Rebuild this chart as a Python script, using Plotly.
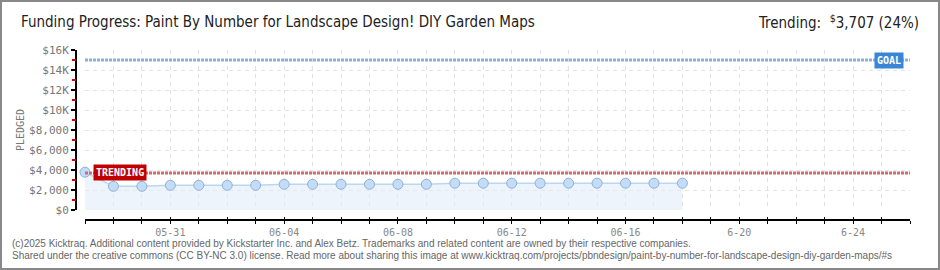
import plotly.graph_objects as go
import pandas as pd

# ---- data ----
dates = pd.date_range("2025-05-28", "2025-06-18", freq="D").strftime("%Y-%m-%d").tolist()
pledged = [3780, 2370, 2370, 2470, 2470, 2470, 2470, 2570, 2570, 2570, 2570, 2570, 2570,
           2680, 2680, 2680, 2680, 2680, 2680, 2680, 2680, 2680]
goal = 15000
trending = 3707
x_tickvals = ["2025-05-31", "2025-06-04", "2025-06-08", "2025-06-12", "2025-06-16", "2025-06-20", "2025-06-24"]
x_ticktext = ["05-31", "06-04", "06-08", "06-12", "06-16", "6-20", "6-24"]
y_tickvals = [0, 2000, 4000, 6000, 8000, 10000, 12000, 14000, 16000]
y_ticktext = ["$0", "$2,000", "$4,000", "$6,000", "$8,000", "$10K", "$12K", "$14K", "$16K"]
y_minor_vals = [1000, 3000, 5000, 7000, 9000, 11000, 13000, 15000]
x_range = ["2025-05-28", "2025-06-26"]
y_range = [0, 16000]

W, H = 940, 270
L, R, T, B = 76, 30, 50, 50
PW, PH = W - L - R, H - T - B


def px(x):
    return (x - L) / PW


def py(y):
    return (H - B - y) / PH


MONO = "DejaVu Sans Mono"
TITLE_FONT = "DejaVu Sans Condensed, Liberation Sans Narrow, Liberation Sans, sans-serif"
GRID = "#E2E2E2"
fig = go.Figure()

fig.add_trace(go.Scatter(
    x=dates, y=pledged, mode="lines+markers",
    line=dict(color="#BCD5F0", width=1.5),
    fill="tozeroy", fillcolor="rgba(225,236,250,0.6)",
    marker=dict(size=10, color="#C3DDF8", line=dict(color="#8FB0D6", width=1)),
    cliponaxis=False, hoverinfo="skip", showlegend=False,
))
# goal & trending lines
fig.add_trace(go.Scatter(x=x_range, y=[goal, goal], mode="lines",
                         line=dict(color="#8AB0DC", width=3, dash="3px,1px"),
                         hoverinfo="skip", showlegend=False))
fig.add_trace(go.Scatter(x=x_range, y=[trending, trending], mode="lines",
                         line=dict(color="#D46A6A", width=3, dash="3px,1px"),
                         hoverinfo="skip", showlegend=False))

fig.update_layout(
    width=W, height=H, margin=dict(l=L, r=R, t=T, b=B),
    paper_bgcolor="white", plot_bgcolor="white",
    xaxis=dict(
        domain=[px(85), 1], range=x_range, anchor="free", position=0,
        showline=True, linecolor="black", linewidth=2,
        tickmode="array", tickvals=x_tickvals, ticktext=x_ticktext,
        ticks="outside", ticklen=3, tickcolor="black", tickwidth=1,
        tickfont=dict(family=MONO, size=10, color="#888"),
        showgrid=True, gridcolor=GRID, griddash="4px,4px", gridwidth=1,
        minor=dict(dtick=86400000, tick0="2025-05-28", ticks="outside", ticklen=3,
                   tickcolor="black", showgrid=True, gridcolor=GRID, griddash="4px,4px"),
        zeroline=False,
    ),
    xaxis2=dict(
        domain=[px(85), 1], range=x_range, anchor="free", position=0, overlaying="x",
        showline=False, showticklabels=False, showgrid=False,
        tickmode="linear", tick0="2025-05-28", dtick=86400000,
        ticks="inside", ticklen=3, tickcolor="black", zeroline=False,
    ),
    yaxis=dict(
        domain=[py(210), 1], range=y_range, anchor="free", position=0,
        showline=True, linecolor="black", linewidth=2,
        tickmode="array", tickvals=y_tickvals, ticktext=y_ticktext,
        ticks="outside", ticklen=4, tickcolor="black", tickwidth=2,
        tickfont=dict(family=MONO, size=11, color="#777"),
        showgrid=True, gridcolor=GRID, griddash="4px,4px", gridwidth=1,
        zeroline=False,
    ),
    yaxis2=dict(
        domain=[py(210), 1], range=y_range, anchor="free", position=0, overlaying="y",
        showline=False, showticklabels=False, showgrid=False,
        tickmode="array", tickvals=y_minor_vals,
        ticks="outside", ticklen=4, tickcolor="#E00000", tickwidth=2, zeroline=False,
    ),
)
fig.add_trace(go.Scatter(x=[x_range[0]], y=[None], xaxis="x2", yaxis="y2",
                         showlegend=False, hoverinfo="skip"))

ann = []
ann.append(dict(xref="paper", yref="paper", x=px(19), y=py(22), xanchor="left", yanchor="middle",
                text="Funding Progress: Paint By Number for Landscape Design! DIY Garden Maps",
                showarrow=False, font=dict(family=TITLE_FONT, size=15, color="#222")))
ann.append(dict(xref="paper", yref="paper", x=px(921), y=py(22), xanchor="right", yanchor="middle",
                text="Trending:  <sup>$</sup>3,707 (24%)",
                showarrow=False, font=dict(family=TITLE_FONT, size=15, color="#222")))
ann.append(dict(xref="paper", yref="paper", x=px(20), y=py(130), xanchor="center", yanchor="middle",
                text="PLEDGED", textangle=-90, showarrow=False,
                font=dict(family=MONO, size=10, color="#777")))
ann.append(dict(xref="paper", yref="paper", x=px(10), y=py(243), xanchor="left", yanchor="middle",
                text="(c)2025 Kicktraq. Additional content provided by Kickstarter Inc. and Alex Betz. Trademarks and related content are owned by their respective companies.",
                showarrow=False, font=dict(family="Liberation Sans", size=10, color="#666")))
ann.append(dict(xref="paper", yref="paper", x=px(10), y=py(256), xanchor="left", yanchor="middle",
                text="Shared under the creative commons (CC BY-NC 3.0) license. Read more about sharing this image at www.kicktraq.com/projects/pbndesign/paint-by-number-for-landscape-design-diy-garden-maps/#s",
                showarrow=False, font=dict(family="Liberation Sans", size=10, color="#666")))
ann.append(dict(xref="paper", yref="y", x=1, y=goal, xanchor="right", yanchor="middle", xshift=-6,
                text="<b>GOAL</b>", showarrow=False, bgcolor="#3A86D6", borderpad=2,
                font=dict(family=MONO, size=10, color="white")))
ann.append(dict(xref="x", yref="y", x=x_range[0], y=trending, xanchor="left", yanchor="middle", xshift=8,
                text="<b>TRENDING</b>", showarrow=False, bgcolor="#C00000", borderpad=2,
                font=dict(family=MONO, size=10, color="white")))
fig.update_layout(annotations=ann)

fig.add_shape(type="rect", xref="paper", yref="paper", x0=px(1), x1=px(939), y0=py(1), y1=py(269),
              line=dict(color="#888", width=2), fillcolor="rgba(0,0,0,0)", layer="above")

fig.write_html("out.html")
